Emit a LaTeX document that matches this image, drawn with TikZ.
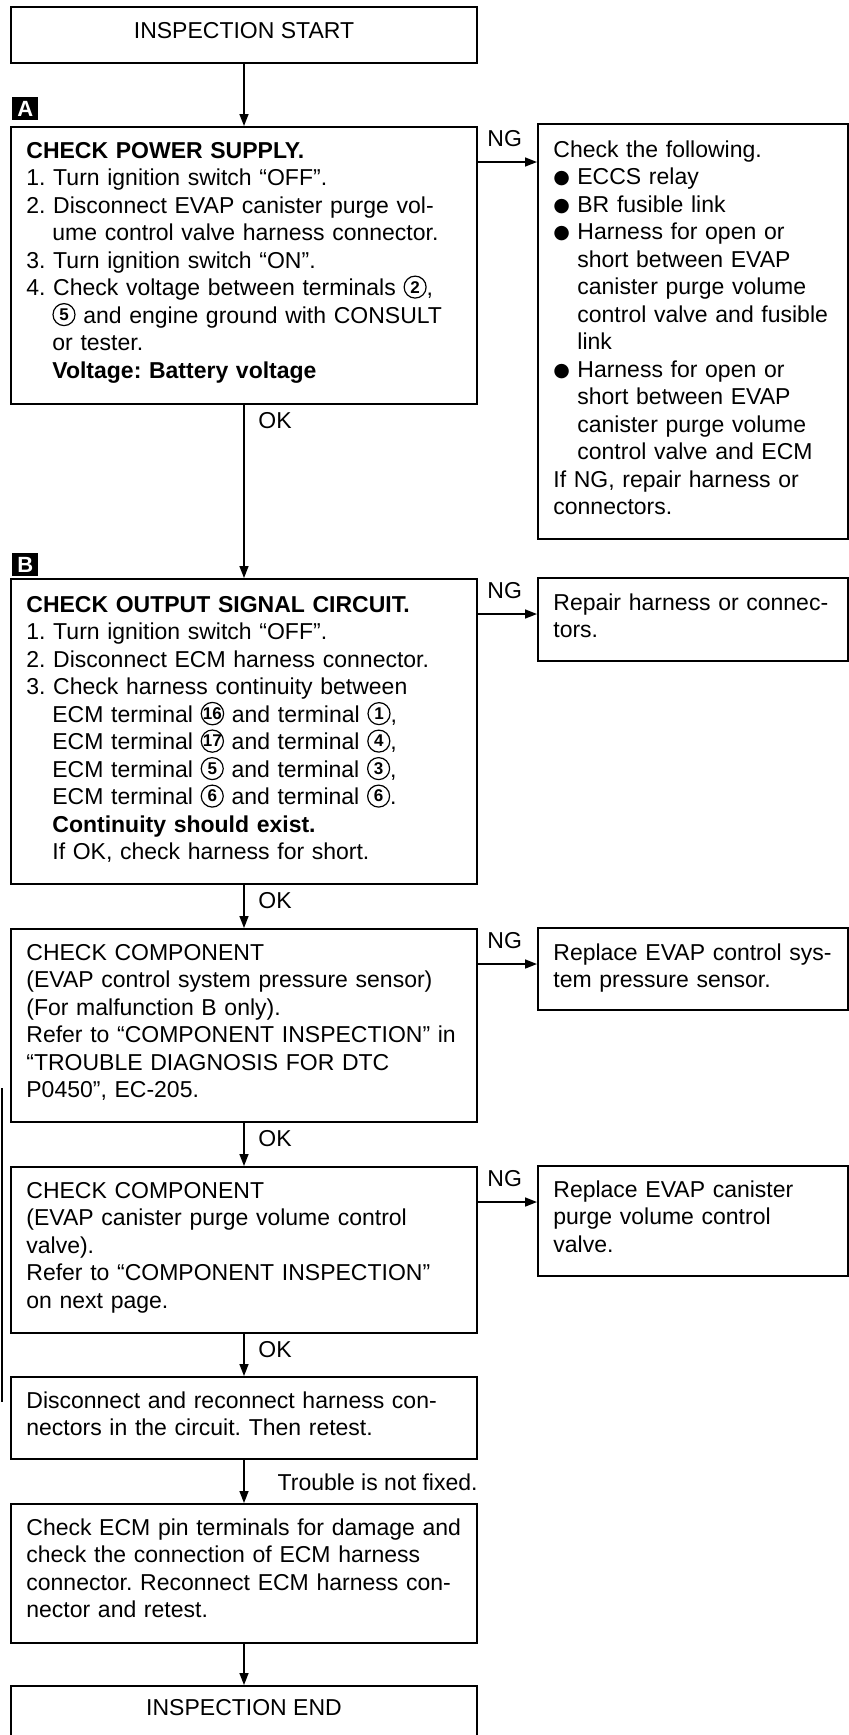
\documentclass[tikz,border=0pt]{standalone}
\usepackage{fontspec}
\setmainfont{Liberation Sans}
\newfontfamily\symfont{DejaVu Sans}
\usetikzlibrary{arrows.meta, positioning, calc}
\frenchspacing

% circled terminal number, bullet and hanging indents
\newcommand{\tnum}[1]{\tikz[baseline={([yshift=-4.2pt]t.center)}]\node[circle, draw, line width=0.6pt, inner sep=0pt, minimum size=11pt, font=\fontsize{8.5}{8.5}\selectfont\bfseries] (t) {#1};}
\newcommand{\bul}{\makebox[12pt][l]{\raisebox{0.3pt}{\symfont\fontsize{9.5}{9.5}\selectfont ●}}}
\newcommand{\numpad}{\hspace*{13pt}}
\newcommand{\bulpad}{\hspace*{12pt}}

\begin{document}
\begin{tikzpicture}[x=0.5pt, y=-0.5pt,
    font=\fontsize{11.5}{13.75}\selectfont,
    box/.style={draw, line width=1pt, inner sep=0pt, anchor=north west},
    txt/.style={inner sep=0pt, align=left, text width=225pt, anchor=base west},
    side/.style={txt, text width=150pt},
    arr/.style={line width=0.8pt, -{Triangle[length=6pt, width=4.5pt]}},
    tag/.style={fill=black, text=white, inner sep=0pt, minimum width=13pt, minimum height=11.5pt, anchor=north west, font=\fontsize{11}{11}\selectfont\bfseries}]

    \useasboundingbox (0,0) rectangle (849,1735);

    % 1. main column
    \node[box, minimum width=233pt, minimum height=28pt]    (start)  at (10,6)    {};
    \node[box, minimum width=233pt, minimum height=138.5pt] (pwr)    at (10,126)  {};
    \node[box, minimum width=233pt, minimum height=152.5pt] (sig)    at (10,578)  {};
    \node[box, minimum width=233pt, minimum height=96.5pt]  (sens)   at (10,928)  {};
    \node[box, minimum width=233pt, minimum height=83pt]    (valve)  at (10,1166) {};
    \node[box, minimum width=233pt, minimum height=41pt]    (recon)  at (10,1376) {};
    \node[box, minimum width=233pt, minimum height=69.5pt]  (ecm)    at (10,1503) {};
    \node[box, minimum width=233pt, minimum height=40pt]    (finish) at (10,1685) {};

    % 2. NG column
    \node[box, minimum width=155pt, minimum height=207.5pt] (chk)      at (537,123)  {};
    \node[box, minimum width=155pt, minimum height=41.5pt]  (rep)      at (537,577)  {};
    \node[box, minimum width=155pt, minimum height=41pt]    (repsens)  at (537,927)  {};
    \node[box, minimum width=155pt, minimum height=55pt]    (repvalve) at (537,1165) {};

    % step tags
    \node[tag] (tagA) at (12,97)  {A};
    \node[tag] (tagB) at (12,553) {B};

    % 3. texts
    \node[inner sep=0pt] (starttxt) at ([yshift=2pt]start.center) {INSPECTION START};
    \node[inner sep=0pt] (finishtxt) at ([yshift=-11.5pt]finish.north) {INSPECTION END};

    \node[txt] (pwrtxt) at ([shift={(8pt,-16pt)}]pwr.north west) {%
        \textbf{CHECK POWER SUPPLY.}\\
        1. Turn ignition switch “OFF”.\\
        2. Disconnect EVAP canister purge vol-\\
        \numpad ume control valve harness connector.\\
        3. Turn ignition switch “ON”.\\
        4. Check voltage between terminals \tnum{2},\\
        \numpad\tnum{5} and engine ground with CONSULT\\
        \numpad or tester.\\
        \numpad\textbf{Voltage: Battery voltage}};

    \node[txt] (sigtxt) at ([shift={(8pt,-17pt)}]sig.north west) {%
        \textbf{CHECK OUTPUT SIGNAL CIRCUIT.}\\
        1. Turn ignition switch “OFF”.\\
        2. Disconnect ECM harness connector.\\
        3. Check harness continuity between\\
        \numpad ECM terminal \tnum{16} and terminal \tnum{1},\\
        \numpad ECM terminal \tnum{17} and terminal \tnum{4},\\
        \numpad ECM terminal \tnum{5} and terminal \tnum{3},\\
        \numpad ECM terminal \tnum{6} and terminal \tnum{6}.\\
        \numpad\textbf{Continuity should exist.}\\
        \numpad If OK, check harness for short.};

    \node[txt] (senstxt) at ([shift={(8pt,-16pt)}]sens.north west) {%
        CHECK COMPONENT\\
        (EVAP control system pressure sensor)\\
        (For malfunction B only).\\
        Refer to “COMPONENT INSPECTION” in\\
        “TROUBLE DIAGNOSIS FOR DTC\\
        P0450”, EC-205.};

    \node[txt] (valvetxt) at ([shift={(8pt,-16pt)}]valve.north west) {%
        CHECK COMPONENT\\
        (EVAP canister purge volume control\\
        valve).\\
        Refer to “COMPONENT INSPECTION”\\
        on next page.};

    \node[txt] (recontxt) at ([shift={(8pt,-16pt)}]recon.north west) {%
        Disconnect and reconnect harness con-\\
        nectors in the circuit. Then retest.};

    \node[txt] (ecmtxt) at ([shift={(8pt,-16pt)}]ecm.north west) {%
        Check ECM pin terminals for damage and\\
        check the connection of ECM harness\\
        connector. Reconnect ECM harness con-\\
        nector and retest.};

    \node[side] (chktxt) at ([shift={(8pt,-17pt)}]chk.north west) {%
        Check the following.\\
        \bul ECCS relay\\
        \bul BR fusible link\\
        \bul Harness for open or\\
        \bulpad short between EVAP\\
        \bulpad canister purge volume\\
        \bulpad control valve and fusible\\
        \bulpad link\\
        \bul Harness for open or\\
        \bulpad short between EVAP\\
        \bulpad canister purge volume\\
        \bulpad control valve and ECM\\
        If NG, repair harness or\\
        connectors.};

    \node[side] (reptxt) at ([shift={(8pt,-16.5pt)}]rep.north west) {%
        Repair harness or connec-\\
        tors.};

    \node[side] (repsenstxt) at ([shift={(8pt,-16.5pt)}]repsens.north west) {%
        Replace EVAP control sys-\\
        tem pressure sensor.};

    \node[side] (repvalvetxt) at ([shift={(8pt,-16pt)}]repvalve.north west) {%
        Replace EVAP canister\\
        purge volume control\\
        valve.};

    % 4. OK path
    \draw[arr] (start.south) -- (pwr.north);
    \foreach \a/\b in {pwr/sig, sig/sens, sens/valve, valve/recon}
    {
        \draw[arr] (\a.south) -- (\b.north);
        \node[inner sep=0pt, anchor=base west] (ok\a) at ([shift={(7pt,-11.5pt)}]\a.south) {OK};
    }
    \draw[arr] (recon.south) -- (ecm.north);
    \node[inner sep=0pt, anchor=base east] (notfixed) at ([yshift=-15pt]recon.south east) {Trouble is not fixed.};
    \draw[arr] (ecm.south) -- (finish.north);

    % 5. NG branches
    \foreach \a/\b in {pwr/chk, sig/rep, sens/repsens, valve/repvalve}
    {
        \coordinate (ng\a) at ([yshift=-18pt]\a.north east);
        \draw[arr] (ng\a) -- (ng\a -| \b.west);
        \node[inner sep=0pt, anchor=base west] (ngt\a) at ([shift={(4.5pt,8pt)}]ng\a) {NG};
    }

    % page edge
    \draw[line width=1pt] (1.5,1088) -- (1.5,1402);

\end{tikzpicture}
\end{document}
